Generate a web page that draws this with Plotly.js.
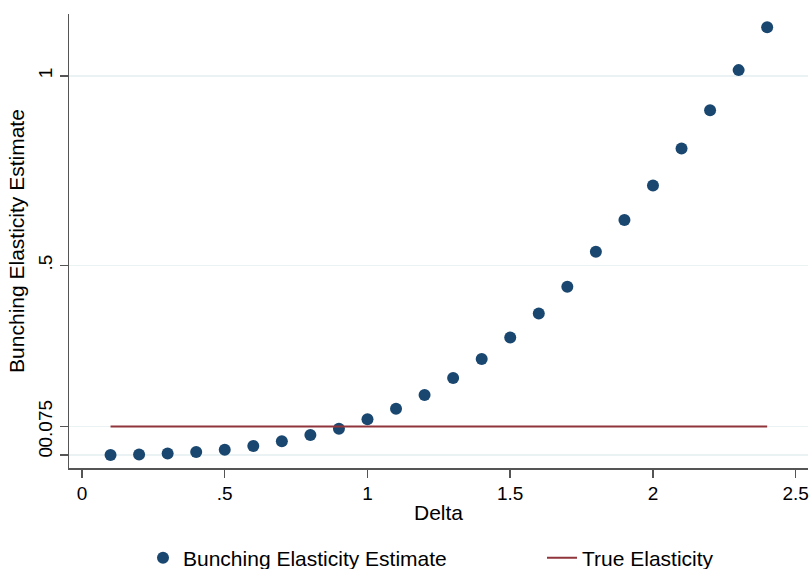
<!DOCTYPE html>
<html>
<head>
<meta charset="utf-8">
<script src="https://cdn.plot.ly/plotly-3.0.1.min.js"></script>
<style>
html,body{margin:0;padding:0;background:#fff;}
#chart{width:812px;height:569px;}
</style>
</head>
<body>
<div id="chart"></div>
<script>
const delta = [0.1,0.2,0.3,0.4,0.5,0.6,0.7,0.8,0.9,1.0,1.1,1.2,1.3,1.4,1.5,1.6,1.7,1.8,1.9,2.0,2.1,2.2,2.3,2.4];
const estimate = [0.000,0.001,0.004,0.008,0.014,0.024,0.036,0.053,0.069,0.094,0.122,0.158,0.203,0.253,0.310,0.373,0.444,0.536,0.620,0.711,0.808,0.909,1.015,1.128];
const trueX = [0.1, 2.4];
const trueY = [0.075, 0.075];
const yTickVals = [0, 0.075, 0.5, 1];
const yTickText = ["0", "0.075", ".5", "1"];
const xTickVals = [0, 0.5, 1, 1.5, 2, 2.5];
const xTickText = ["0", ".5", "1", "1.5", "2", "2.5"];

const family = "Liberation Sans, Arial, sans-serif";
const font = {family: family, size: 21, color: "#000"};
const tickFont = {family: family, size: 19, color: "#000"};

const traces = [
  {x: delta, y: estimate, type: "scatter", mode: "markers", name: "Bunching Elasticity Estimate",
   marker: {color: "#1a476f", size: 12}, legend: "legend"},
  {x: trueX, y: trueY, type: "scatter", mode: "lines", name: "True Elasticity",
   line: {color: "#90353b", width: 2}, legend: "legend2"}
];

const legendBase = {orientation: "h", xref: "container", yref: "container",
  xanchor: "left", yanchor: "middle", y: 11/569,
  font: font, bgcolor: "rgba(0,0,0,0)", itemwidth: 30};

const layout = {
  width: 812, height: 569,
  margin: {l: 69, r: 4, t: 14, b: 101},
  paper_bgcolor: "#fff", plot_bgcolor: "#fff",
  font: font,
  showlegend: true,
  legend: Object.assign({}, legendBase, {x: 143/812}),
  legend2: Object.assign({}, legendBase, {x: 542/812}),
  xaxis: {range: [-0.0455, 2.543], tickvals: xTickVals, ticktext: xTickText,
          showgrid: false, zeroline: false, showline: true, linecolor: "#555", linewidth: 1.5,
          ticks: "outside", ticklen: 8, tickcolor: "#555", tickwidth: 1.5,
          tickfont: tickFont, title: {text: "Delta", font: font, standoff: 2}, automargin: false},
  yaxis: {range: [-0.0343, 1.163], tickvals: yTickVals, ticktext: yTickText,
          showgrid: true, gridcolor: "#eaf2f3", gridwidth: 1.5, zeroline: false,
          showline: true, linecolor: "#555", linewidth: 1.5,
          ticks: "outside", ticklen: 8, tickcolor: "#555", tickwidth: 1.5,
          tickangle: -90, tickfont: tickFont,
          title: {text: "Bunching Elasticity Estimate", font: font, standoff: 4}, automargin: false}
};

Plotly.newPlot("chart", traces, layout, {displayModeBar: false, staticPlot: true});
</script>
</body>
</html>
